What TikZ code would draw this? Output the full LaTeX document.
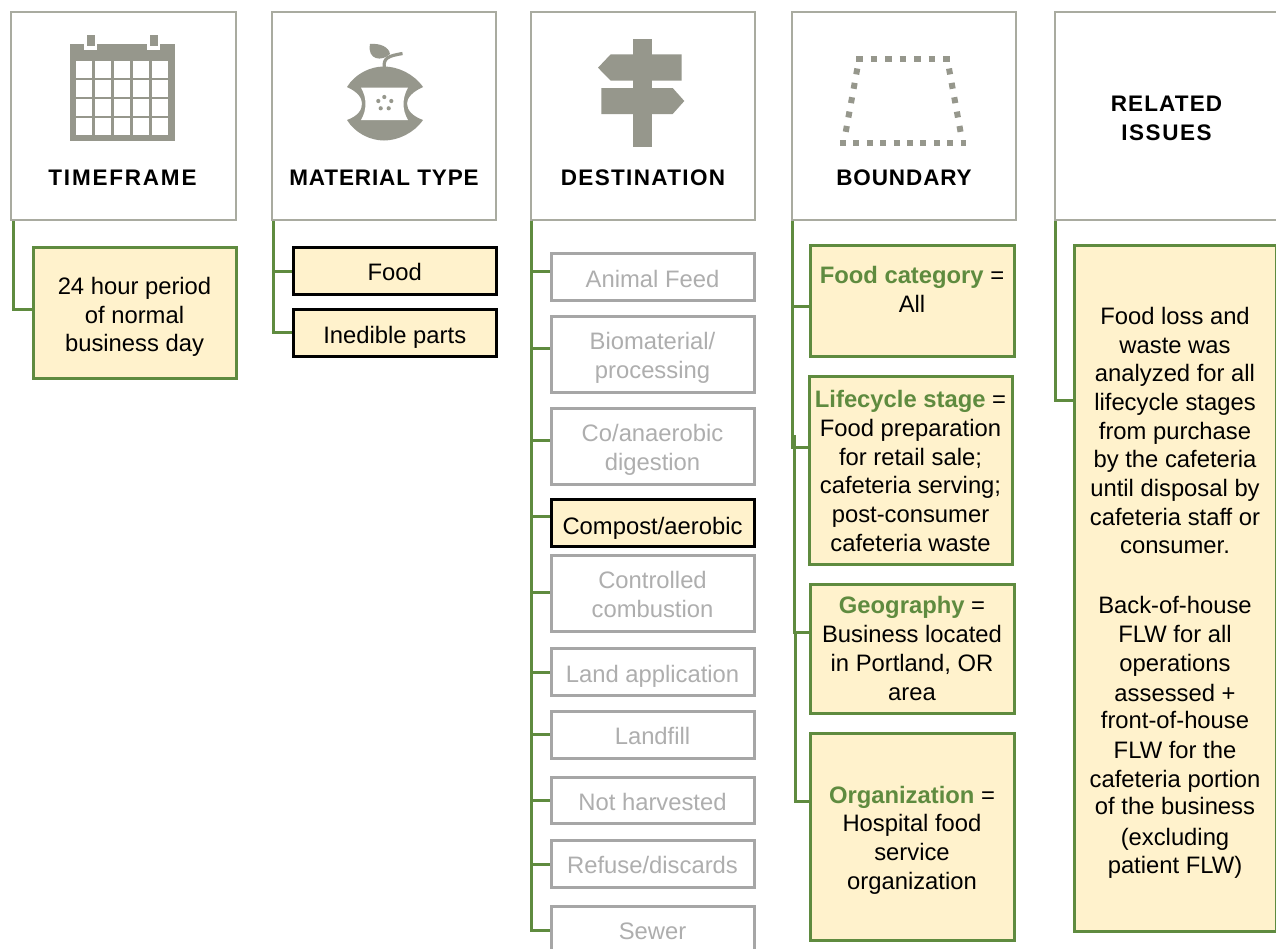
\documentclass[tikz,border=0pt]{standalone}
\usepackage{fontspec}
\setmainfont{Liberation Sans}
\newfontfamily\hdrfont{Liberation Sans Bold}
\definecolor{grn}{HTML}{5F8B3F}
\definecolor{cream}{HTML}{FFF2CC}
\definecolor{iconc}{HTML}{96978C}
\definecolor{hline}{HTML}{A9ABA0}
\definecolor{gbox}{HTML}{A6A6A6}
\definecolor{gtxt}{HTML}{AEAEAE}
\tikzset{
  hbox/.style={draw=hline,line width=1.5pt,fill=white,inner sep=0pt},
  leafbox/.style={draw=grn,line width=3pt,fill=cream,inner sep=0pt},
  pickbox/.style={draw=black,line width=3pt,fill=cream,inner sep=0pt},
  offbox/.style={draw=gbox,line width=3pt,fill=white,inner sep=0pt},
  body/.style={inner sep=0pt,align=center,text=black,font=\fontsize{23.8}{28.7}\selectfont},
  offtxt/.style={body,text=gtxt},
  hdr/.style={inner sep=0pt,align=center,text=black,font=\fontsize{22.5}{29}\hdrfont},
  conn/.style={draw=grn,line width=3pt,line join=miter},
  icon/.style={fill=iconc,draw=none},
  dots/.style={draw=iconc,line width=6pt},
}
\newcommand{\bx}[8]{%
  \pgfmathsetmacro{\cxx}{(#2+#4)/2}\pgfmathsetmacro{\cyy}{(#3+#5)/2}%
  \pgfmathsetmacro{\wdd}{#4-#2}\pgfmathsetmacro{\htt}{#5-#3}%
  \node[#6,minimum width=\wdd pt,minimum height=\htt pt] (#1) at (\cxx,\cyy) {};%
  \node[#7] (#1t) at (\cxx,#8)}
\newcommand{\hb}[5]{%
  \pgfmathsetmacro{\cxx}{(#2+#4)/2}\pgfmathsetmacro{\cyy}{(#3+#5)/2}%
  \pgfmathsetmacro{\wdd}{#4-#2}\pgfmathsetmacro{\htt}{#5-#3}%
  \node[hbox,minimum width=\wdd pt,minimum height=\htt pt] (#1) at (\cxx,\cyy) {};}
\newcommand{\grn}[1]{\textcolor{grn}{\textbf{#1}}}
\newcommand{\ls}[1]{\addfontfeature{LetterSpace=#1}}
\begin{document}
\begin{tikzpicture}[x=1pt,y=-1pt]
\useasboundingbox (0,0) rectangle (1276,948);
\fill[white] (0,0) rectangle (1276,948);
\hb{h1}{11}{12}{236}{220}
\hb{h2}{272}{12}{496}{220}
\hb{h3}{531}{12}{755}{220}
\hb{h4}{792}{12}{1016}{220}
\hb{h5}{1055}{12}{1290}{220}
\bx{b1}{33}{247}{236}{378}{leafbox}{body}{317}{24 hour period\\of normal\\business day};
\bx{m1}{293.5}{247}{496}{294}{pickbox}{body}{272}{Food};
\bx{m2}{293.5}{309}{496}{356}{pickbox}{body}{337}{Inedible parts};
\bx{d1}{551}{253}{754}{300}{offbox}{offtxt}{279}{Animal Feed};
\bx{d2}{551}{316}{754}{392}{offbox}{offtxt}{357.5}{Biomaterial/\\processing};
\bx{d3}{551}{408}{754}{484}{offbox}{offtxt}{449.5}{Co/anaerobic\\digestion};
\bx{d4}{551}{499}{754}{546}{pickbox}{body}{528}{Compost/aerobic};
\bx{d5}{551}{555}{754}{631}{offbox}{offtxt}{594.5}{Controlled\\combustion};
\bx{d6}{551}{648}{754}{695}{offbox}{offtxt}{676}{Land application};
\bx{d7}{551}{711}{754}{758}{offbox}{offtxt}{736}{Landfill};
\bx{d8}{551}{777}{754}{823}{offbox}{offtxt}{802}{Not harvested};
\bx{d9}{551}{840}{754}{887}{offbox}{offtxt}{865}{Refuse/discards};
\bx{d10}{551}{906}{754}{960}{offbox}{offtxt}{931.5}{Sewer};
\bx{f1}{810}{245}{1014}{356}{leafbox}{body}{289.5}{\grn{Food category} =\\All};
\bx{f2}{809}{376}{1012}{564}{leafbox}{body}{471}{\grn{Lifecycle stage} =\\Food preparation\\for retail sale;\\cafeteria serving;\\post-consumer\\cafeteria waste};
\bx{f3}{810}{584}{1014}{713}{leafbox}{body}{648.5}{\grn{Geography} =\\Business located\\in Portland, OR\\area};
\bx{f4}{810}{733}{1014}{940}{leafbox}{body}{840}{\grn{Organization} =\\Hospital food\\service\\organization};
\bx{r1}{1074}{245}{1276}{931}{leafbox}{body}{592.5}{Food loss and\\waste was\\analyzed for all\\lifecycle stages\\from purchase\\by the cafeteria\\until disposal by\\cafeteria staff or\\consumer.\\[31.3pt]Back-of-house\\FLW for all\\operations\\[1.3pt]assessed +\\[-1.7pt]front-of-house\\[1.3pt]FLW for the\\cafeteria portion\\[-1.7pt]of the business\\[2.3pt](excluding\\[-0.7pt]patient FLW)};
% connectors
\draw[conn] ([xshift=3pt]h1.south west) |- (b1.west |- 0,309);
\draw[conn] ([xshift=2pt]h2.south west) |- (m1.west |- 0,271);
\draw[conn] ([xshift=2pt]h2.south west) |- (m2.west |- 0,332);
\foreach \n/\y in {d1/271,d2/348,d3/440,d4/516,d5/592,d6/672,d7/734,d8/800,d9/864,d10/930}
  \draw[conn] ([xshift=1pt]h3.south west) |- (\n.west |- 0,\y);
\draw[conn] ([xshift=1pt]h4.south west) |- (f1.west |- 0,306);
\draw[conn] ([xshift=1pt]h4.south west) |- (f2.west |- 0,447);
\draw[conn] (794,435) |- (f3.west |- 0,632);
\draw[conn] (795,632) |- (f4.west |- 0,801);
\draw[conn] ([xshift=1pt]h5.south west) |- (r1.west |- 0,400);
% header labels
\node[hdr] (l1) at (122.5,177.5) {\ls{8}TIMEFRAME};
\node[hdr] (l2) at (384,177.5) {\ls{4}MATERIAL TYPE};
\node[hdr] (l3) at (643,177.5) {\ls{6}DESTINATION};
\node[hdr] (l4) at (904,177.5) {\ls{4}BOUNDARY};
\node[hdr] (l5) at (1166.5,118) {\ls{5}RELATED\\\ls{7}ISSUES};
% calendar icon
\fill[icon] (69.5,43.5) rectangle (174.5,141);
\fill[white] (84,35) rectangle (97,50);
\fill[white] (147,35) rectangle (160,50);
\fill[icon] (87,35) rectangle (95,46);
\fill[icon] (150,35) rectangle (158,46);
\foreach \xa/\xb in {76/92.3,94.7/111.3,113.7/130.3,132.7/149.3,151.7/168.3}
  \foreach \ya/\yb in {61/77.7,80/96.7,99.3/116,118.3/135}
    \fill[white] (\xa,\ya) rectangle (\xb,\yb);
% apple icon
\fill[icon] (347,87) .. controls (355,74) and (370,66.5) .. (384,66.5) .. controls (398,66.5) and (414,74) .. (423,87)
  .. controls (412,92) and (407,98) .. (407,103.5) .. controls (407,110) and (412,116) .. (423,120)
  .. controls (414,133) and (398,140.5) .. (384,140.5) .. controls (370,140.5) and (355,133) .. (347,120)
  .. controls (358,116) and (362,110) .. (362,103.5) .. controls (362,98) and (358,92) .. (347,87) -- cycle;
\fill[white] (361,87.5) -- (408,87.5) .. controls (402,98) and (402,110) .. (408,120) -- (361,120) .. controls (367,110) and (367,98) .. (361,87.5) -- cycle;
\foreach \sx/\sy in {384.3/97,378.3/101,391.3/101,380.7/108.3,388.7/108.3}
  \fill[icon] (\sx,\sy) circle[radius=2.1];
\draw[iconc,line width=3.2pt] (384.3,68) .. controls (383,58) and (388,56) .. (402.5,53.5);
\fill[icon] (370,44) .. controls (380,43) and (389,47) .. (390,54) .. controls (382,62) and (367,60) .. (370,44) -- cycle;
% signpost icon
\fill[icon] (633.3,39) rectangle (652,146.7);
\fill[icon] (598,67.7) -- (610.7,54.3) -- (681.7,54.3) -- (681.7,80.7) -- (610.7,80.7) -- cycle;
\fill[icon] (601.3,88) -- (672.7,88) -- (684.3,101) -- (672.7,114) -- (601.3,114) -- cycle;
% boundary icon
\draw[dots,dash pattern=on 6.5pt off 8pt] (856,58.5) -- (950,58.5);
\draw[dots,dash pattern=on 6pt off 7.4pt] (840,143) -- (966,143);
\draw[dots,dash pattern=on 6pt off 8.6pt] (857.3,68.5) -- (845,136);
\draw[dots,dash pattern=on 6pt off 8.6pt] (949,68.5) -- (961.3,136);
\end{tikzpicture}
\end{document}
